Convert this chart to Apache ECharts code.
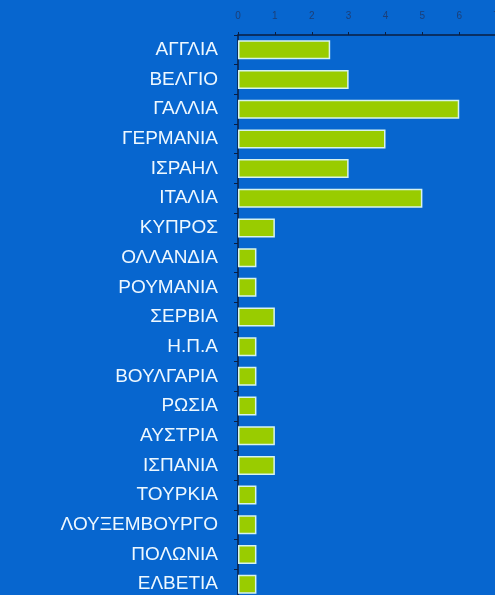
<!DOCTYPE html>
<html>
<head>
<meta charset="utf-8">
<script src="https://cdn.jsdelivr.net/npm/echarts@6/dist/echarts.min.js"></script>
<style>
html,body{margin:0;padding:0;background:#0766cf;}
#c{width:495px;height:595px;}
</style>
</head>
<body>
<div id="c"></div>
<script>
var categories = ["ΑΓΓΛΙΑ","ΒΕΛΓΙΟ","ΓΑΛΛΙΑ","ΓΕΡΜΑΝΙΑ","ΙΣΡΑΗΛ","ΙΤΑΛΙΑ","ΚΥΠΡΟΣ","ΟΛΛΑΝΔΙΑ","ΡΟΥΜΑΝΙΑ","ΣΕΡΒΙΑ","Η.Π.Α","ΒΟΥΛΓΑΡΙΑ","ΡΩΣΙΑ","ΑΥΣΤΡΙΑ","ΙΣΠΑΝΙΑ","ΤΟΥΡΚΙΑ","ΛΟΥΞΕΜΒΟΥΡΓΟ","ΠΟΛΩΝΙΑ","ΕΛΒΕΤΙΑ"];
var values = [2.5,3,6,4,3,5,1,0.5,0.5,1,0.5,0.5,0.5,1,1,0.5,0.5,0.5,0.5];
var xMin = 0, xMax = 8, xInterval = 1;

var chart = echarts.init(document.getElementById('c'));
chart.setOption({
  backgroundColor: '#0766cf',
  animation: false,
  grid: {left: 238, top: 35, width: 295, height: 564, containLabel: false, outerBoundsMode: 'none'},
  xAxis: {
    type: 'value', position: 'top', min: xMin, max: xMax, interval: xInterval,
    axisLine: {show: true, lineStyle: {color: '#0b1e40', width: 1.5}},
    axisTick: {show: true, length: 3, lineStyle: {color: '#0b1e40'}},
    splitLine: {show: false},
    axisLabel: {color: '#1c3f78', fontSize: 10, margin: 14, fontFamily: 'Liberation Sans'}
  },
  yAxis: {
    type: 'category', data: categories, inverse: true,
    axisLine: {show: true, lineStyle: {color: '#0b1e40', width: 1.5}},
    axisTick: {show: true, length: 4, lineStyle: {color: '#0b1e40'}},
    axisLabel: {color: '#eef8ff', fontSize: 19, margin: 20, fontFamily: 'Liberation Sans'}
  },
  series: [{
    type: 'bar', data: values, barWidth: 19,
    itemStyle: {color: '#99cc00', borderColor: '#d6f2ee', borderWidth: 1.5}
  }]
});
</script>
</body>
</html>
